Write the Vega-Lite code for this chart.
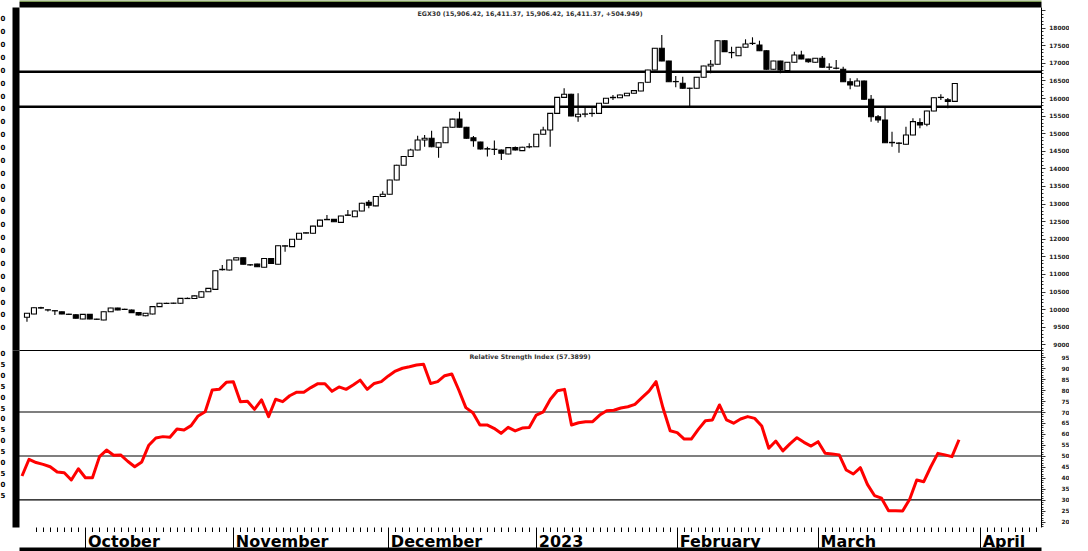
{
  "$schema": "https://vega.github.io/schema/vega-lite/v6.json",
  "padding": 0,
  "background": "white",
  "spacing": 0,
  "bounds": "flush",
  "config": {
    "view": {"stroke": null},
    "font": "DejaVu Sans",
    "axis": {"labelOverlap": false, "labelFlush": false, "labelBound": false, "grid": false, "tickColor": "black", "domainColor": "black"}
  },
  "datasets": {
    "levels": [{"level": 16750}, {"level": 15750}],
    "rsiLevels": [{"level": 70}, {"level": 50}, {"level": 30}],
    "egx": [
      {"i":0,"o":9770,"h":9890,"l":9640,"c":9880,"rsi":40.9},
      {"i":1,"o":9860,"h":10050,"l":9850,"c":10040,"rsi":48.5},
      {"i":2,"o":10040,"h":10070,"l":10010,"c":10030,"rsi":47},
      {"i":3,"o":9980,"h":9990,"l":9930,"c":9975,"rsi":46.2},
      {"i":4,"o":9955,"h":9965,"l":9830,"c":9950,"rsi":45.1},
      {"i":5,"o":9920,"h":9930,"l":9850,"c":9860,"rsi":42.7},
      {"i":6,"o":9855,"h":9870,"l":9830,"c":9850,"rsi":42.4},
      {"i":7,"o":9840,"h":9850,"l":9730,"c":9740,"rsi":39.1},
      {"i":8,"o":9720,"h":9860,"l":9710,"c":9850,"rsi":44.2},
      {"i":9,"o":9850,"h":9860,"l":9710,"c":9720,"rsi":40.1},
      {"i":10,"o":9715,"h":9725,"l":9695,"c":9710,"rsi":40.1},
      {"i":11,"o":9690,"h":9930,"l":9680,"c":9925,"rsi":49.7},
      {"i":12,"o":9925,"h":10040,"l":9915,"c":10030,"rsi":52.7},
      {"i":13,"o":10030,"h":10040,"l":9970,"c":9975,"rsi":50.3},
      {"i":14,"o":9995,"h":10010,"l":9975,"c":9990,"rsi":50.5},
      {"i":15,"o":9975,"h":9985,"l":9890,"c":9900,"rsi":47.6},
      {"i":16,"o":9900,"h":9910,"l":9820,"c":9830,"rsi":45.1},
      {"i":17,"o":9810,"h":9890,"l":9800,"c":9880,"rsi":47.3},
      {"i":18,"o":9860,"h":10080,"l":9850,"c":10070,"rsi":54.9},
      {"i":19,"o":10070,"h":10175,"l":10060,"c":10165,"rsi":58.2},
      {"i":20,"o":10160,"h":10180,"l":10150,"c":10165,"rsi":58.8},
      {"i":21,"o":10165,"h":10180,"l":10150,"c":10170,"rsi":58.5},
      {"i":22,"o":10165,"h":10315,"l":10155,"c":10305,"rsi":62.3},
      {"i":23,"o":10300,"h":10330,"l":10290,"c":10305,"rsi":61.8},
      {"i":24,"o":10300,"h":10385,"l":10290,"c":10375,"rsi":63.8},
      {"i":25,"o":10335,"h":10505,"l":10325,"c":10495,"rsi":68.2},
      {"i":26,"o":10495,"h":10600,"l":10485,"c":10590,"rsi":70.1},
      {"i":27,"o":10560,"h":11100,"l":10550,"c":11090,"rsi":80},
      {"i":28,"o":11120,"h":11255,"l":11100,"c":11130,"rsi":80.3},
      {"i":29,"o":11112,"h":11406,"l":11100,"c":11396,"rsi":83.5},
      {"i":30,"o":11396,"h":11470,"l":11390,"c":11460,"rsi":83.8},
      {"i":31,"o":11460,"h":11470,"l":11265,"c":11275,"rsi":74.7},
      {"i":32,"o":11260,"h":11275,"l":11235,"c":11255,"rsi":74.9},
      {"i":33,"o":11280,"h":11290,"l":11195,"c":11205,"rsi":71.2},
      {"i":34,"o":11190,"h":11450,"l":11180,"c":11440,"rsi":75.5},
      {"i":35,"o":11440,"h":11450,"l":11290,"c":11300,"rsi":67.9},
      {"i":36,"o":11275,"h":11810,"l":11265,"c":11800,"rsi":75.8},
      {"i":37,"o":11790,"h":11815,"l":11630,"c":11800,"rsi":74.7},
      {"i":38,"o":11775,"h":11995,"l":11765,"c":11985,"rsi":77.4},
      {"i":39,"o":11985,"h":12165,"l":11975,"c":12155,"rsi":79},
      {"i":40,"o":12160,"h":12185,"l":12150,"c":12170,"rsi":79},
      {"i":41,"o":12155,"h":12370,"l":12145,"c":12360,"rsi":81.1},
      {"i":42,"o":12360,"h":12540,"l":12350,"c":12530,"rsi":82.9},
      {"i":43,"o":12540,"h":12675,"l":12530,"c":12550,"rsi":82.9},
      {"i":44,"o":12550,"h":12560,"l":12475,"c":12485,"rsi":79.4},
      {"i":45,"o":12465,"h":12655,"l":12455,"c":12645,"rsi":81.4},
      {"i":46,"o":12665,"h":12820,"l":12655,"c":12675,"rsi":80.3},
      {"i":47,"o":12625,"h":12800,"l":12615,"c":12790,"rsi":82.3},
      {"i":48,"o":12790,"h":13020,"l":12780,"c":13010,"rsi":84.5},
      {"i":49,"o":13035,"h":13100,"l":12870,"c":12950,"rsi":80.3},
      {"i":50,"o":12935,"h":13210,"l":12925,"c":13200,"rsi":83},
      {"i":51,"o":13200,"h":13350,"l":13190,"c":13265,"rsi":83.8},
      {"i":52,"o":13265,"h":13680,"l":13255,"c":13670,"rsi":86.4},
      {"i":53,"o":13670,"h":14100,"l":13660,"c":14090,"rsi":88.6},
      {"i":54,"o":14090,"h":14350,"l":14080,"c":14340,"rsi":89.9},
      {"i":55,"o":14340,"h":14560,"l":14330,"c":14523,"rsi":90.6},
      {"i":56,"o":14523,"h":14930,"l":14515,"c":14808,"rsi":91.4},
      {"i":57,"o":14808,"h":14950,"l":14617,"c":14855,"rsi":91.7},
      {"i":58,"o":14855,"h":15070,"l":14600,"c":14617,"rsi":83},
      {"i":59,"o":14600,"h":14745,"l":14305,"c":14730,"rsi":83.8},
      {"i":60,"o":14730,"h":15180,"l":14720,"c":15170,"rsi":86.5},
      {"i":61,"o":15170,"h":15410,"l":15160,"c":15400,"rsi":87.3},
      {"i":62,"o":15400,"h":15610,"l":15160,"c":15170,"rsi":80},
      {"i":63,"o":15170,"h":15180,"l":14845,"c":14855,"rsi":72},
      {"i":64,"o":14870,"h":14920,"l":14617,"c":14785,"rsi":69.7},
      {"i":65,"o":14750,"h":14760,"l":14540,"c":14550,"rsi":64.1},
      {"i":66,"o":14560,"h":14617,"l":14335,"c":14550,"rsi":64.1},
      {"i":67,"o":14545,"h":14790,"l":14380,"c":14540,"rsi":62.6},
      {"i":68,"o":14523,"h":14535,"l":14240,"c":14430,"rsi":60.3},
      {"i":69,"o":14410,"h":14600,"l":14400,"c":14590,"rsi":63},
      {"i":70,"o":14590,"h":14625,"l":14510,"c":14523,"rsi":61.4},
      {"i":71,"o":14505,"h":14615,"l":14495,"c":14600,"rsi":62.7},
      {"i":72,"o":14610,"h":14714,"l":14572,"c":14617,"rsi":63},
      {"i":73,"o":14617,"h":14980,"l":14607,"c":14970,"rsi":68.6},
      {"i":74,"o":14970,"h":15185,"l":14960,"c":15092,"rsi":70.1},
      {"i":75,"o":15092,"h":15575,"l":14617,"c":15565,"rsi":75.8},
      {"i":76,"o":15565,"h":16030,"l":15555,"c":16020,"rsi":79.7},
      {"i":77,"o":16020,"h":16277,"l":16010,"c":16107,"rsi":80.3},
      {"i":78,"o":16107,"h":16120,"l":15480,"c":15490,"rsi":64.1},
      {"i":79,"o":15470,"h":16135,"l":15328,"c":15540,"rsi":65.1},
      {"i":80,"o":15540,"h":15774,"l":15453,"c":15547,"rsi":65.6},
      {"i":81,"o":15560,"h":15708,"l":15470,"c":15565,"rsi":65.6},
      {"i":82,"o":15565,"h":15860,"l":15555,"c":15850,"rsi":68.6},
      {"i":83,"o":15850,"h":16003,"l":15840,"c":15993,"rsi":70.6},
      {"i":84,"o":16010,"h":16087,"l":15945,"c":16020,"rsi":70.8},
      {"i":85,"o":16010,"h":16097,"l":16000,"c":16087,"rsi":71.8},
      {"i":86,"o":16067,"h":16145,"l":16057,"c":16135,"rsi":72.4},
      {"i":87,"o":16135,"h":16220,"l":16125,"c":16210,"rsi":73.5},
      {"i":88,"o":16200,"h":16446,"l":16190,"c":16436,"rsi":76.5},
      {"i":89,"o":16447,"h":16807,"l":16437,"c":16797,"rsi":79.5},
      {"i":90,"o":16797,"h":17424,"l":16787,"c":17414,"rsi":83.8},
      {"i":91,"o":17414,"h":17792,"l":17043,"c":17053,"rsi":71.7},
      {"i":92,"o":17053,"h":17063,"l":16455,"c":16465,"rsi":61.5},
      {"i":93,"o":16470,"h":16627,"l":16305,"c":16465,"rsi":60.6},
      {"i":94,"o":16420,"h":16607,"l":16267,"c":16277,"rsi":57.7},
      {"i":95,"o":16280,"h":16290,"l":15774,"c":16277,"rsi":57.7},
      {"i":96,"o":16277,"h":16600,"l":16267,"c":16590,"rsi":62.1},
      {"i":97,"o":16590,"h":16920,"l":16580,"c":16910,"rsi":66},
      {"i":98,"o":16910,"h":17082,"l":16703,"c":16960,"rsi":66.4},
      {"i":99,"o":16960,"h":17640,"l":16950,"c":17630,"rsi":73.2},
      {"i":100,"o":17630,"h":17640,"l":17308,"c":17318,"rsi":66.4},
      {"i":101,"o":17295,"h":17460,"l":17130,"c":17290,"rsi":64.9},
      {"i":102,"o":17204,"h":17453,"l":17194,"c":17443,"rsi":66.8},
      {"i":103,"o":17443,"h":17670,"l":17433,"c":17537,"rsi":67.9},
      {"i":104,"o":17550,"h":17727,"l":17508,"c":17556,"rsi":67.1},
      {"i":105,"o":17508,"h":17630,"l":17336,"c":17346,"rsi":63.6},
      {"i":106,"o":17346,"h":17356,"l":16807,"c":16817,"rsi":53.5},
      {"i":107,"o":16817,"h":17063,"l":16807,"c":17053,"rsi":56.8},
      {"i":108,"o":17053,"h":17063,"l":16703,"c":16797,"rsi":52.3},
      {"i":109,"o":16778,"h":17026,"l":16768,"c":17016,"rsi":55.5},
      {"i":110,"o":17016,"h":17318,"l":17006,"c":17224,"rsi":58.3},
      {"i":111,"o":17224,"h":17346,"l":17100,"c":17110,"rsi":56.2},
      {"i":112,"o":17110,"h":17120,"l":17000,"c":17033,"rsi":54.5},
      {"i":113,"o":17016,"h":17140,"l":17006,"c":17130,"rsi":56.5},
      {"i":114,"o":17130,"h":17195,"l":16864,"c":16874,"rsi":51.2},
      {"i":115,"o":16880,"h":16988,"l":16797,"c":16874,"rsi":50.9},
      {"i":116,"o":16850,"h":17082,"l":16820,"c":16846,"rsi":50.5},
      {"i":117,"o":16817,"h":16891,"l":16455,"c":16465,"rsi":43.6},
      {"i":118,"o":16465,"h":16561,"l":16249,"c":16371,"rsi":41.8},
      {"i":119,"o":16343,"h":16561,"l":16333,"c":16485,"rsi":44.7},
      {"i":120,"o":16485,"h":16495,"l":15954,"c":15964,"rsi":37.1},
      {"i":121,"o":15964,"h":16087,"l":15328,"c":15470,"rsi":32},
      {"i":122,"o":15470,"h":15518,"l":15300,"c":15376,"rsi":30.8},
      {"i":123,"o":15376,"h":15737,"l":14720,"c":14730,"rsi":25.1},
      {"i":124,"o":14740,"h":15043,"l":14617,"c":14730,"rsi":25.1},
      {"i":125,"o":14720,"h":14740,"l":14446,"c":14713,"rsi":25},
      {"i":126,"o":14685,"h":15185,"l":14675,"c":14950,"rsi":30.3},
      {"i":127,"o":14950,"h":15424,"l":14940,"c":15328,"rsi":39.1},
      {"i":128,"o":15300,"h":15424,"l":15140,"c":15234,"rsi":38.3},
      {"i":129,"o":15253,"h":15642,"l":15200,"c":15632,"rsi":45.1},
      {"i":130,"o":15632,"h":16020,"l":15622,"c":16010,"rsi":51.2},
      {"i":131,"o":16015,"h":16107,"l":15945,"c":16020,"rsi":50.5},
      {"i":132,"o":15950,"h":16000,"l":15708,"c":15906.42,"rsi":49.7},
      {"i":133,"o":15906.42,"h":16411.37,"l":15906.42,"c":16411.37,"rsi":57.3899}
    ]
  },
  "vconcat": [
    {
      "width": 1022,
      "height": 343,
      "title": {"text": "EGX30 (15,906.42, 16,411.37, 15,906.42, 16,411.37, +504.949)", "orient": "top", "anchor": "middle", "frame": "group", "offset": -16.5, "font": "DejaVu Sans", "fontSize": 6.3, "fontWeight": "bold", "color": "#333"},
      "resolve": {"axis": {"x": "independent", "y": "independent"}},
      "layer": [
        {
          "data": {"name": "levels"},
          "mark": {"type": "rule", "color": "black", "strokeWidth": 2.5},
          "encoding": {
            "y": {
              "field": "level", "type": "quantitative",
              "scale": {"domain": [8837, 18588], "nice": false, "zero": false},
              "axis": {
                "orient": "right",
                "values": [8900,9000,9100,9200,9300,9400,9500,9600,9700,9800,9900,10000,10100,10200,10300,10400,10500,10600,10700,10800,10900,11000,11100,11200,11300,11400,11500,11600,11700,11800,11900,12000,12100,12200,12300,12400,12500,12600,12700,12800,12900,13000,13100,13200,13300,13400,13500,13600,13700,13800,13900,14000,14100,14200,14300,14400,14500,14600,14700,14800,14900,15000,15100,15200,15300,15400,15500,15600,15700,15800,15900,16000,16100,16200,16300,16400,16500,16600,16700,16800,16900,17000,17100,17200,17300,17400,17500,17600,17700,17800,17900,18000,18100,18200,18300,18400,18500],
                "format": "d",
                "labelExpr": "datum.value % 500 === 0 && datum.value >= 9000 && datum.value <= 18000 ? datum.label : ''",
                "labelOverlap": false,
                "tickSize": {"condition": {"test": "datum.value % 500 === 0", "value": 4}, "value": 2},
                "tickWidth": 0.8,
                "domain": true, "domainWidth": 1,
                "labelAlign": "right", "labelBaseline": "middle", "labelPadding": 24,
                "labelFont": "DejaVu Sans", "labelFontSize": 5.8, "labelFontWeight": "bold", "labelColor": "#222",
                "grid": false, "title": null
              }
            }
          }
        },
        {
          "data": {"name": "egx"},
          "mark": {"type": "rule", "color": "black", "strokeWidth": 1.1},
          "encoding": {
            "x": {
              "field": "i", "type": "quantitative",
              "scale": {"domain": [-0.426, 144.64], "nice": false, "zero": false},
              "axis": {
                "orient": "top",
                "values": [-1.916, 149.25],
                "grid": true, "gridColor": "black", "gridOpacity": 1,
                "gridWidth": {"condition": {"test": "datum.value < 0", "value": 3}, "value": 5},
                "ticks": true, "tickSize": 4.5, "tickColor": "black",
                "tickWidth": {"condition": {"test": "datum.value < 0", "value": 3}, "value": 5},
                "labels": false,
                "domain": true, "domainWidth": 5.5, "offset": 2.75,
                "title": null
              }
            },
            "y": {
              "field": "l", "type": "quantitative",
              "scale": {"domain": [8837, 18588], "nice": false, "zero": false},
              "axis": {
                "orient": "left",
                "values": [18617,18251,17885,17519,17153,16787,16421,16056,15690,15324,14958,14592,14226,13860,13494,13128,12763,12397,12031,11665,11299,10933,10567,10201,9835,9470],
                "labelExpr": "'0'",
                "labelOverlap": false,
                "ticks": false, "tickSize": 0,
                "domain": true, "domainWidth": 7, "offset": 3.5,
                "labelAlign": "left", "labelBaseline": "middle", "labelPadding": 15.5,
                "labelFont": "DejaVu Sans", "labelFontSize": 7, "labelFontWeight": "bold", "labelColor": "black",
                "grid": false, "title": null
              }
            },
            "y2": {"field": "h"}
          }
        },
        {
          "data": {"name": "egx"},
          "mark": {"type": "bar", "orient": "vertical", "width": 5, "stroke": "black", "strokeWidth": 1.1},
          "encoding": {
            "x": {
              "field": "i", "type": "quantitative",
              "scale": {"domain": [-0.426, 144.64], "nice": false, "zero": false},
              "axis": {"orient": "top", "ticks": false, "labels": false, "grid": false, "domain": true, "domainColor": "#7d9b56", "domainWidth": 1.5, "offset": 6.25, "title": null}
            },
            "y": {"field": "o", "type": "quantitative", "scale": {"domain": [8837, 18588], "nice": false, "zero": false}, "axis": null},
            "y2": {"field": "c"},
            "fill": {"condition": {"test": "datum.c >= datum.o", "value": "white"}, "value": "black"}
          }
        }
      ]
    },
    {
      "width": 1022,
      "height": 177,
      "title": {"text": "Relative Strength Index (57.3899)", "orient": "top", "anchor": "middle", "frame": "group", "offset": -13, "font": "DejaVu Sans", "fontSize": 6.3, "fontWeight": "bold", "color": "#333"},
      "resolve": {"axis": {"x": "independent", "y": "independent"}},
      "layer": [
        {
          "data": {"name": "rsiLevels"},
          "transform": [{"filter": "datum.level !== 50"}],
          "mark": {"type": "rule", "color": "black", "strokeWidth": 1.2},
          "encoding": {
            "x": {
              "datum": -0.426, "type": "quantitative",
              "scale": {"domain": [-0.426, 144.64], "nice": false, "zero": false},
              "axis": {"orient": "bottom", "ticks": false, "labels": false, "grid": false, "domain": true, "domainColor": "black", "domainWidth": 4, "offset": 22, "title": null}
            },
            "x2": {"datum": 144.64},
            "y": {
              "field": "level", "type": "quantitative",
              "scale": {"domain": [17.7, 98.2], "nice": false, "zero": false},
              "axis": {
                "orient": "right",
                "values": [20,25,30,35,40,45,50,55,60,65,70,75,80,85,90,95,98.2],
                "format": "d",
                "labelExpr": "datum.value <= 95 ? datum.label : ''",
                "labelOverlap": false,
                "tickSize": 4,
                "tickOpacity": {"condition": {"test": "datum.value > 98.1", "value": 0}, "value": 1},
                "tickWidth": 0.8,
                "grid": true, "gridColor": "black", "gridWidth": 1.2,
                "gridOpacity": {"condition": {"test": "datum.value > 98.1", "value": 1}, "value": 0},
                "domain": true, "domainWidth": 1,
                "labelAlign": "right", "labelBaseline": "middle", "labelPadding": 24,
                "labelFont": "DejaVu Sans", "labelFontSize": 5.8, "labelFontWeight": "bold", "labelColor": "#222",
                "title": null
              }
            }
          }
        },
        {
          "data": {"name": "rsiLevels"},
          "transform": [{"filter": "datum.level === 50"}],
          "mark": {"type": "rule", "color": "black", "strokeWidth": 1.2},
          "encoding": {
            "y": {
              "field": "level", "type": "quantitative",
              "scale": {"domain": [17.7, 98.2], "nice": false, "zero": false},
              "axis": {
                "orient": "right",
                "values": [18,19,21,22,23,24,26,27,28,29,31,32,33,34,36,37,38,39,41,42,43,44,46,47,48,49,51,52,53,54,56,57,58,59,61,62,63,64,66,67,68,69,71,72,73,74,76,77,78,79,81,82,83,84,86,87,88,89,91,92,93,94,96,97,98],
                "labels": false, "tickSize": 2, "tickWidth": 0.8, "domain": false, "grid": false, "title": null
              }
            }
          }
        },
        {
          "data": {"name": "egx"},
          "mark": {"type": "line", "color": "#ff0000", "strokeWidth": 3, "strokeJoin": "round"},
          "encoding": {
            "x": {
              "field": "i", "type": "quantitative",
              "scale": {"domain": [-0.426, 144.64], "nice": false, "zero": false},
              "axis": {
                "orient": "bottom",
                "values": [-1.916,2,3,4,5,6,7,8,9,10,11,12,13,14,15,16,17,18,19,20,21,22,23,24,25,26,27,28,29,30,31,32,33,34,35,36,37,38,39,40,41,42,43,44,45,46,47,48,49,50,51,52,53,54,55,56,57,58,59,60,61,62,63,64,65,66,67,68,69,70,71,72,73,74,75,76,77,78,79,80,81,82,83,84,85,86,87,88,89,90,91,92,93,94,95,96,97,98,99,100,101,102,103,104,105,106,107,108,109,110,111,112,113,114,115,116,117,118,119,120,121,122,123,124,125,126,127,128,129,130,131,132,133,134,135,136,137,138,139,140,141,142,143,144,149.25],
                "tickSize": {"condition": {"test": "indexof([9,30,52,73,93,113,136], datum.value) >= 0 || datum.value < 0 || datum.value > 145", "value": 24}, "value": 4.5},
                "tickWidth": {"condition": {"test": "datum.value < 0 || datum.value > 145", "value": 4}, "value": 1},
                "tickColor": "black",
                "grid": true, "gridColor": "black",
                "gridOpacity": {"condition": {"test": "datum.value < 0 || datum.value > 145", "value": 1}, "value": 0},
                "gridWidth": {"condition": {"test": "datum.value < 0", "value": 3}, "value": 5},
                "labelExpr": "datum.value === 9 ? 'October' : datum.value === 30 ? 'November' : datum.value === 52 ? 'December' : datum.value === 73 ? '2023' : datum.value === 93 ? 'February' : datum.value === 113 ? 'March' : datum.value === 136 ? 'April' : ''",
                "labelOverlap": false,
                "labelAlign": "left", "labelBaseline": "alphabetic", "labelOffset": 2, "labelPadding": -5,
                "labelFont": "DejaVu Sans", "labelFontSize": 16, "labelFontWeight": "bold", "labelColor": "black",
                "domain": false, "title": null
              }
            },
            "y": {
              "field": "rsi", "type": "quantitative",
              "scale": {"domain": [17.7, 98.2], "nice": false, "zero": false},
              "axis": {
                "orient": "left",
                "values": [100,95,90,85,80,75,70,65,60,55,50,45,40,35,30],
                "labelExpr": "datum.value % 10 === 0 ? '5' : '0'",
                "labelOverlap": false,
                "labelOffset": -4,
                "ticks": false, "tickSize": 0,
                "domain": true, "domainWidth": 7, "offset": 3.5,
                "labelAlign": "left", "labelBaseline": "middle", "labelPadding": 15.5,
                "labelFont": "DejaVu Sans", "labelFontSize": 7, "labelFontWeight": "bold", "labelColor": "black",
                "grid": false, "title": null
              }
            }
          }
        }
      ]
    }
  ]
}
